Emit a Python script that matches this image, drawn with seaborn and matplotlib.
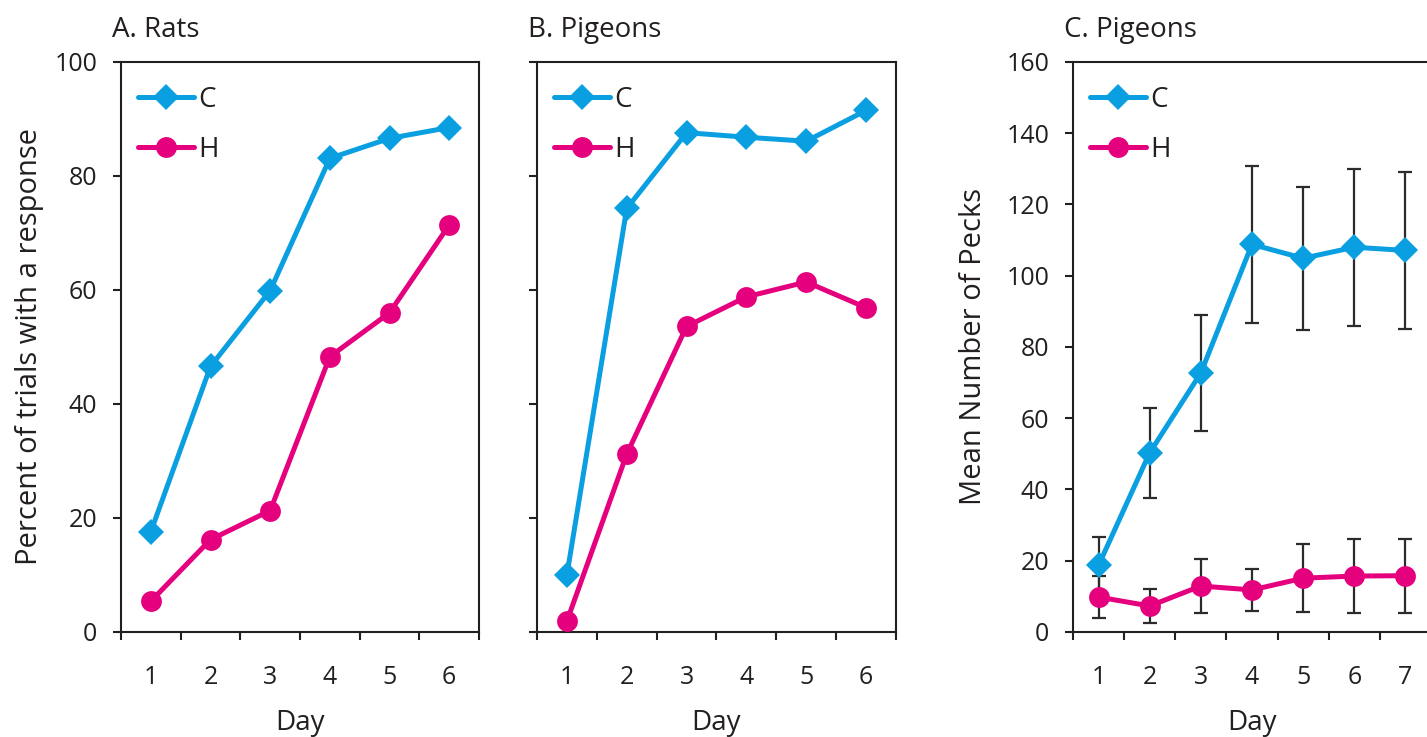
import pandas as pd
import matplotlib.pyplot as plt
import seaborn as sns

# data
days_ab = [1, 2, 3, 4, 5, 6]
days_c = [1, 2, 3, 4, 5, 6, 7]

rats_C = [17.6, 46.6, 59.9, 83.1, 86.6, 88.5]
rats_H = [5.4, 16.2, 21.3, 48.3, 56.0, 71.4]

pigeons_C = [10.0, 74.3, 87.6, 86.8, 86.1, 91.5]
pigeons_H = [1.9, 31.2, 53.6, 58.8, 61.4, 56.9]

pecks_C = [18.7, 50.3, 72.7, 108.8, 104.9, 108.0, 107.1]
pecks_C_err = [8.0, 12.6, 16.3, 22.0, 20.0, 22.0, 22.0]
pecks_H = [9.8, 7.3, 12.9, 11.8, 15.1, 15.7, 15.8]
pecks_H_err = [5.8, 4.7, 7.5, 6.0, 9.6, 10.4, 10.4]

groups = ["C", "H"]

BLUE = "#0A9FE0"
PINK = "#E5007E"
INK = "#231F20"
colors = {"C": BLUE, "H": PINK}
markers = {"C": "D", "H": "o"}
msizes = {"C": 13, "H": 15}

sns.set_theme(style="ticks")
plt.rcParams["font.family"] = ["Open Sans", "DejaVu Sans"]
plt.rcParams.update({
    "axes.edgecolor": INK,
    "axes.linewidth": 1.5,
    "xtick.color": INK,
    "ytick.color": INK,
    "text.color": INK,
    "axes.labelcolor": INK,
})

fig = plt.figure(figsize=(14.27, 7.37), dpi=100)
bottom, height = 0.1425, 0.7734
ax_a = fig.add_axes([0.0848, bottom, 0.2509, height])
ax_b = fig.add_axes([0.3763, bottom, 0.2516, height])
ax_c = fig.add_axes([0.7519, bottom, 0.2509, height])


def draw_series(ax, days, series):
    for g, vals in zip(groups, series):
        df = pd.DataFrame({"Day": days, "value": vals})
        sns.lineplot(data=df, x="Day", y="value", ax=ax, color=colors[g],
                     marker=markers[g], markersize=msizes[g], markeredgewidth=0,
                     linewidth=3.6, label=g, errorbar=None, zorder=3)


def style_panel(ax, days, ymax, ystep, title, ylabel=None, show_ylabels=True):
    n = len(days)
    ax.set_xlim(0.5, n + 0.5)
    ax.set_ylim(0, ymax)
    # ticks sit between the days, labels sit on the days
    ax.set_xticks([d - 0.5 for d in days] + [n + 0.5])
    ax.set_xticklabels([])
    ax.set_xticks(days, minor=True)
    ax.set_xticklabels([str(d) for d in days], minor=True)
    ax.tick_params(axis="x", which="major", direction="out", length=6, width=1.5)
    ax.tick_params(axis="x", which="minor", length=0, pad=24, labelsize=18)
    ax.set_yticks(range(0, ymax + 1, ystep))
    ax.tick_params(axis="y", direction="out", length=6, width=1.5, pad=11, labelsize=18)
    if not show_ylabels:
        ax.set_yticklabels([])
    for s in ax.spines.values():
        s.set_visible(True)
        s.set_color(INK)
        s.set_linewidth(1.5)
    ax.set_xlabel("Day", fontsize=20)
    ax.xaxis.set_label_coords(0.5, -0.136)
    ax.xaxis.label.set_va("top")
    if ylabel:
        ax.set_ylabel(ylabel, fontsize=21)
    else:
        ax.set_ylabel("")
    ax.set_title(title, loc="left", x=-0.026, pad=18, fontsize=20)
    leg = ax.legend(loc="upper left", bbox_to_anchor=(-0.006, 0.992), frameon=False,
                    fontsize=20, handlelength=2.0, handletextpad=0.15,
                    labelspacing=0.78, borderaxespad=0.3)
    for t in leg.get_texts():
        t.set_color(INK)


draw_series(ax_a, days_ab, [rats_C, rats_H])
style_panel(ax_a, days_ab, 100, 20, "A. Rats", "Percent of trials with a response")
ax_a.yaxis.set_label_coords(-0.215, 0.5)

draw_series(ax_b, days_ab, [pigeons_C, pigeons_H])
style_panel(ax_b, days_ab, 100, 20, "B. Pigeons", show_ylabels=False)

# panel C: means with error bars drawn underneath the lines
for g, vals, err in zip(groups, [pecks_C, pecks_H], [pecks_C_err, pecks_H_err]):
    ax_c.errorbar(days_c, vals, yerr=err, fmt="none", ecolor="#2B2B2B",
                  elinewidth=1.6, capsize=5, capthick=1.6, zorder=1)
draw_series(ax_c, days_c, [pecks_C, pecks_H])
style_panel(ax_c, days_c, 160, 20, "C. Pigeons", "Mean Number of Pecks")
ax_c.yaxis.set_label_coords(-0.237, 0.5)

fig.savefig("out.png", dpi=100)
